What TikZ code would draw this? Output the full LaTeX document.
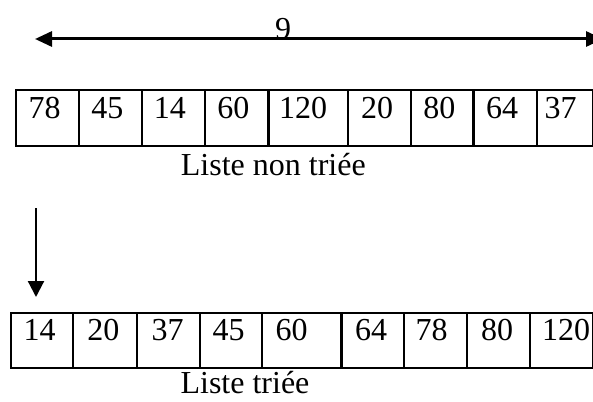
\documentclass[tikz,border=0pt]{standalone}
\usepackage{fontspec}
\setmainfont{Liberation Serif}
\usetikzlibrary{arrows.meta}
\begin{document}
\begin{tikzpicture}[x=1pt,y=-1pt,
  cellbox/.style={draw,line width=2.2pt,inner sep=0pt,anchor=north west},
  val/.style={inner sep=0pt,anchor=base west,font=\fontsize{32}{38}\selectfont},
  caption/.style={inner sep=0pt,anchor=base,font=\fontsize{32}{38}\selectfont},
  spanarrow/.style={line width=3pt,{Triangle[length=17pt,width=15pt]}-{Triangle[length=17pt,width=15pt]}},
  downarrow/.style={line width=2.2pt,-{Triangle[length=16pt,width=16pt]}}]
\useasboundingbox (0,0) rectangle (593,401);
\clip (0,0) rectangle (593,401);

% length of the list
\coordinate (spanL) at (35,39);
\coordinate (spanR) at (603,39);
\draw[spanarrow] (spanL) -- (spanR);
\node[caption] (nine) at (283,40) {9};

% unsorted list
\foreach \l/\r/\v/\p [count=\i] in {15/77.7/78/13.5,77.7/140.7/45/13.5,140.7/204.2/14/13,
    204.2/267.4/60/13,267.4/346.8/120/11.5,346.8/409.6/20/14,409.6/472.3/80/13.5,
    472.3/535.5/64/13.5,535.5/591.5/37/9} {
  \pgfmathsetmacro\w{\r-\l}
  \node[cellbox,minimum width=\w pt,minimum height=56pt] (u\i) at (\l,89) {};
  \node[val] (uv\i) at (\l+\p,118.3) {\v};
}
\node[caption] (ucap) at (273.3,175) {Liste non triée};

% sorting step
\coordinate (downA) at (36,208);
\coordinate (downB) at (36,297);
\draw[downarrow] (downA) -- (downB);

% sorted list
\foreach \l/\r/\v/\p [count=\i] in {10/71.7/14/13.5,71.7/136/20/15.5,136/198.5/37/15.5,
    198.5/261/45/14,261/340.4/60/14.5,340.4/402.8/64/14.5,402.8/466/78/12.5,
    466/529/80/15,529/591.5/120/13} {
  \pgfmathsetmacro\w{\r-\l}
  \node[cellbox,minimum width=\w pt,minimum height=54.5pt] (s\i) at (\l,312.2) {};
  \node[val] (sv\i) at (\l+\p,340.5) {\v};
}
\node[caption] (scap) at (245,393.3) {Liste triée};
\end{tikzpicture}
\end{document}
